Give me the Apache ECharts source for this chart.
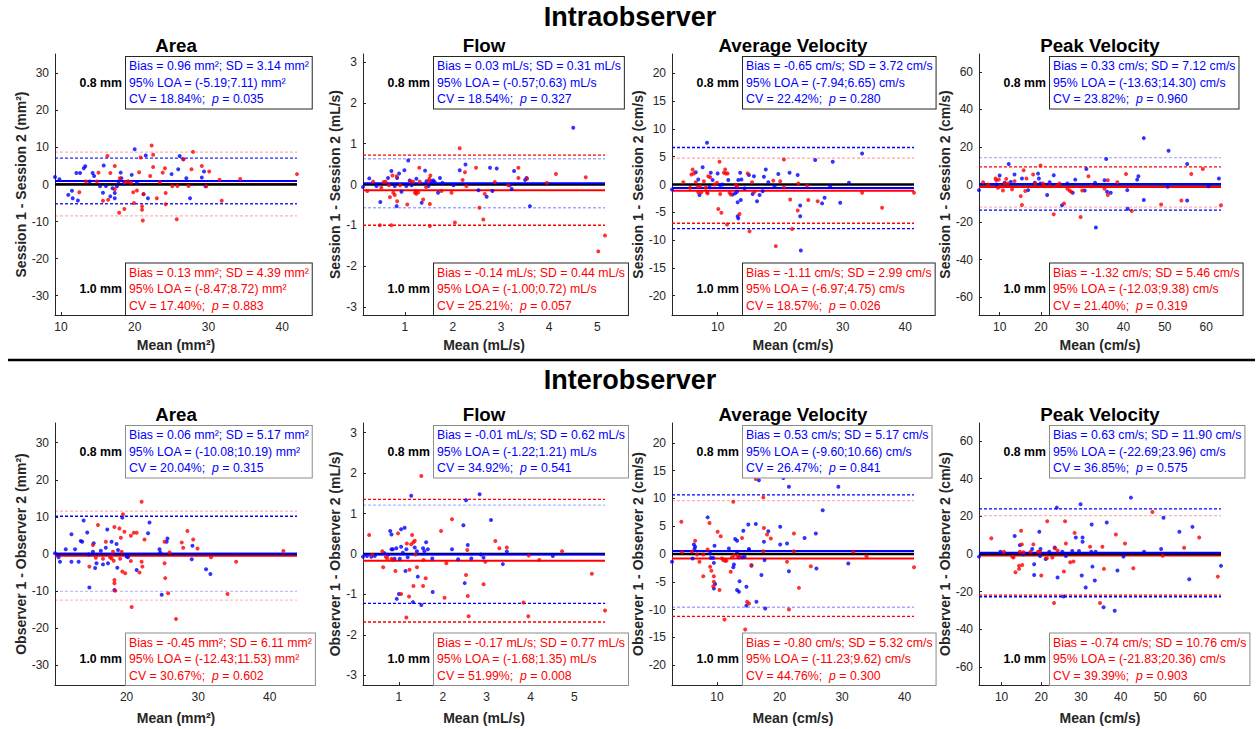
<!DOCTYPE html>
<html><head><meta charset="utf-8">
<script src="https://cdn.jsdelivr.net/npm/echarts@6/dist/echarts.min.js"></script>
<style>html,body{margin:0;padding:0;background:#fff}#c{width:1259px;height:729px}</style>
</head><body><div id="c"></div><script>
// ---------- DATA ----------
const rowTitles = ['Intraobserver', 'Interobserver'];
const panelTitles = ['Area', 'Flow', 'Average Velocity', 'Peak Velocity'];
const unitLabels = ['mm²', 'mL/s', 'cm/s', 'cm/s'];
const rowYPrefix = ['Session 1 - Session 2', 'Observer 1 - Observer 2'];
const groupLabels = ['0.8 mm', '1.0 mm'];

// [bias, SD, LOA low, LOA high, CV %, p]
const intraStats08 = [[0.96,3.14,-5.19,7.11,18.84,0.035],[0.03,0.31,-0.57,0.63,18.54,0.327],[-0.65,3.72,-7.94,6.65,22.42,0.280],[0.33,7.12,-13.63,14.30,23.82,0.960]];
const intraStats10 = [[0.13,4.39,-8.47,8.72,17.40,0.883],[-0.14,0.44,-1.00,0.72,25.21,0.057],[-1.11,2.99,-6.97,4.75,18.57,0.026],[-1.32,5.46,-12.03,9.38,21.40,0.319]];
const interStats08 = [[0.06,5.17,-10.08,10.19,20.04,0.315],[-0.01,0.62,-1.22,1.21,34.92,0.541],[0.53,5.17,-9.60,10.66,26.47,0.841],[0.63,11.90,-22.69,23.96,36.85,0.575]];
const interStats10 = [[-0.45,6.11,-12.43,11.53,30.67,0.602],[-0.17,0.77,-1.68,1.35,51.99,0.008],[-0.80,5.32,-11.23,9.62,44.76,0.300],[-0.74,10.76,-21.83,20.36,39.39,0.903]];

// tick labels
const xTicksIntra = [[10,20,30,40],[1,2,3,4,5],[10,20,30,40],[10,20,30,40,50,60]];
const xTicksInter = [[20,30,40],[1,2,3,4,5],[10,20,30,40],[10,20,30,40,50,60]];
const yTicks = [[-30,-20,-10,0,10,20,30],[-3,-2,-1,0,1,2,3],[-20,-15,-10,-5,0,5,10,15,20],[-60,-40,-20,0,20,40,60]];
const yLimitIntra = [35.2, 3.2, 23.5, 69.5];
const yLimitInter = [35.3, 3.24, 23.6, 69.5];

// points: [mean, difference]
const intraArea08 = [[9.2,2.0],[9.8,1.4],[11.0,-2.8],[11.5,-1.7],[11.6,-3.7],[12.1,3.1],[12.3,-4.3],[12.6,3.1],[13.1,4.4],[13.3,4.9],[13.9,0.8],[14.3,3.1],[14.5,2.3],[15.3,-0.5],[15.7,-2.2],[15.8,5.1],[16.1,-0.4],[16.7,-3.2],[17.0,-1.0],[17.3,-2.3],[17.3,-3.7],[17.6,-0.5],[17.8,0.8],[18.1,3.2],[18.2,1.7],[18.5,0.2],[19.1,0.8],[19.6,2.6],[20.0,9.5],[20.3,0.4],[21.2,-2.6],[21.5,7.8],[21.8,-3.7],[25.0,2.8],[25.9,4.1],[26.1,7.7],[26.6,6.8],[27.0,1.7],[27.5,-3.7],[29.1,1.9],[29.4,3.5],[29.6,-0.5]];
const intraArea10 = [[12.5,-2.1],[13.4,0.8],[14.9,0.8],[15.1,3.2],[15.7,-4.4],[16.3,7.7],[16.4,-4.1],[16.7,3.1],[17.3,5.0],[17.3,-1.3],[17.9,-7.6],[18.0,1.7],[18.6,-6.6],[18.7,0.6],[19.1,0.8],[19.5,0.5],[19.8,-2.1],[19.9,-5.0],[20.3,-1.6],[20.6,3.3],[20.8,7.3],[21.0,-5.9],[21.0,-6.8],[21.1,-9.7],[21.2,-2.6],[22.1,2.3],[22.3,10.5],[22.5,4.7],[22.5,8.0],[23.0,-3.7],[23.4,0.6],[23.8,3.2],[24.1,4.4],[24.2,-2.3],[24.2,-5.3],[25.1,-0.5],[25.7,-9.4],[25.8,-0.4],[26.6,6.8],[27.3,-0.4],[27.7,4.1],[27.9,8.8],[29.1,5.0],[29.7,-0.5],[30.1,3.5],[31.5,1.3],[31.8,-4.4],[34.3,1.5],[42.0,2.8]];
const intraFlow08 = [[0.13,-0.06],[0.26,0.15],[0.41,-0.04],[0.49,-0.43],[0.65,0.16],[0.72,0.33],[0.79,-0.04],[0.83,-0.53],[0.84,0.16],[0.88,0.27],[0.93,-0.18],[0.99,0.35],[1.03,-0.04],[1.07,0.59],[1.10,0.10],[1.14,-0.02],[1.24,0.14],[1.35,-0.45],[1.42,0.34],[1.45,0.08],[1.49,-0.04],[1.55,0.08],[1.59,0.10],[1.62,0.06],[1.69,-0.20],[1.73,0.16],[1.78,0.04],[2.01,-0.02],[2.14,0.35],[2.26,0.49],[2.53,-0.14],[2.70,-0.30],[2.77,0.41],[2.82,-0.16],[2.91,0.39],[3.18,-0.02],[3.22,-0.11],[3.27,0.33],[3.50,0.11],[3.53,0.16],[3.60,-0.53],[4.50,1.39]];
const intraFlow10 = [[0.22,-0.16],[0.34,0.07],[0.48,-1.00],[0.51,-0.08],[0.56,0.06],[0.60,0.07],[0.67,-0.02],[0.69,-0.31],[0.72,-1.00],[0.74,0.22],[0.76,-0.20],[0.79,-0.26],[0.83,0.20],[0.84,-0.41],[0.90,-0.02],[1.05,-0.49],[1.12,0.08],[1.17,0.07],[1.21,-0.20],[1.23,-0.16],[1.24,-0.23],[1.28,-0.19],[1.30,0.41],[1.31,0.07],[1.38,-0.37],[1.44,-0.06],[1.49,0.08],[1.51,0.14],[1.52,-0.48],[1.52,-1.02],[1.53,0.22],[1.76,-0.16],[1.97,-0.20],[2.04,-0.93],[2.14,0.89],[2.20,0.11],[2.25,0.30],[2.28,-0.04],[2.48,0.41],[2.55,-0.57],[2.63,-0.86],[2.66,-0.23],[2.87,0.06],[3.15,-0.02],[3.36,0.41],[3.36,0.16],[3.54,0.14],[3.95,0.04],[4.14,0.26],[4.76,0.18],[5.02,-1.64],[5.16,-1.25]];
const intraAvgV08 = [[2.7,-0.9],[6.5,2.2],[6.9,0.9],[7.1,-1.9],[7.6,3.1],[8.3,7.5],[8.7,-0.5],[8.9,2.1],[9.2,0.8],[10.0,2.0],[10.4,-0.1],[10.8,0.0],[11.7,0.8],[12.4,-1.8],[12.8,-1.6],[13.1,-1.3],[13.2,-3.2],[13.2,-5.7],[13.3,-6.1],[13.3,0.8],[13.6,2.1],[13.7,-2.8],[13.8,0.9],[14.3,-0.7],[15.0,1.7],[15.6,-1.7],[15.8,1.5],[16.3,-3.0],[16.7,-1.9],[17.2,-1.2],[17.4,1.4],[17.7,2.7],[18.1,0.4],[18.5,-15.2],[19.1,-0.3],[19.7,1.9],[21.5,2.1],[22.8,1.7],[23.2,-3.8],[23.2,-5.7],[23.3,-11.9],[25.6,4.4],[27.1,-2.4],[26.7,-3.4],[28.4,4.1],[28.0,-0.3],[29.6,-3.3],[31.0,0.3],[33.1,5.6]];
const intraAvgV10 = [[4.5,0.4],[5.6,-0.6],[5.8,1.8],[6.0,2.7],[6.2,2.0],[6.5,0.4],[6.8,-0.4],[6.9,-1.4],[7.2,-0.3],[7.4,-1.4],[7.8,0.6],[8.1,-0.6],[8.3,-1.4],[8.4,-1.6],[8.5,1.5],[8.8,1.3],[9.5,0.0],[9.9,0.3],[10.1,-4.4],[10.3,4.1],[10.4,-1.7],[10.6,-5.1],[11.0,2.1],[11.2,2.7],[11.3,2.0],[11.5,-7.2],[11.6,2.0],[11.9,-1.5],[12.1,-1.8],[12.9,-0.1],[13.1,-0.3],[13.5,-5.3],[14.8,2.0],[15.1,-8.4],[15.5,0.4],[15.9,-1.3],[18.9,0.7],[19.3,-11.1],[20.0,0.6],[20.6,4.5],[20.6,-0.5],[21.6,-2.7],[21.9,-8.0],[22.8,-4.7],[22.9,0.2],[24.3,-0.2],[24.5,-2.8],[26.0,-3.0],[33.1,-1.5],[36.3,-4.2],[41.4,-1.5]];
const intraPeakV08 = [[5.0,-3.0],[9.2,0.0],[10.0,4.8],[11.2,0.9],[12.2,10.9],[12.7,1.4],[13.6,5.3],[15.4,3.2],[16.9,-3.0],[18.5,0.9],[19.3,5.8],[19.5,3.2],[19.9,0.5],[21.5,-5.6],[22.1,1.2],[23.1,4.9],[25.1,-11.1],[26.4,0.5],[27.7,-4.4],[28.3,2.6],[31.0,8.3],[30.6,-3.2],[33.1,0.9],[33.3,-22.9],[35.4,2.3],[35.8,13.6],[36.0,-3.9],[36.9,-4.4],[40.9,-3.0],[41.0,-12.9],[43.3,2.6],[43.6,4.4],[44.9,24.7],[44.9,-8.3],[50.7,-1.2],[50.9,18.0],[55.4,10.9],[55.4,-8.5],[60.6,-0.9],[63.1,3.2]];
const intraPeakV10 = [[6.0,1.2],[7.2,0.0],[9.0,3.2],[9.2,2.3],[9.6,-1.8],[9.8,2.6],[10.2,-0.9],[10.8,-3.2],[11.2,0.5],[11.6,3.0],[12.0,0.5],[13.0,-2.6],[13.6,1.8],[15.1,-6.2],[15.4,-10.9],[15.8,7.6],[16.2,-3.5],[16.5,3.2],[18.1,5.3],[18.6,0.5],[19.9,10.1],[20.5,0.5],[20.9,-0.9],[22.1,-0.9],[23.1,-15.9],[23.9,-0.5],[24.5,0.5],[25.6,-10.1],[26.4,-2.3],[26.9,-3.2],[27.3,-3.9],[29.6,-17.3],[30.0,-3.2],[31.5,4.4],[32.2,-0.9],[35.4,-2.3],[36.2,-5.6],[36.2,2.3],[38.5,1.2],[40.6,5.6],[42.0,-14.1],[49.1,-10.6],[54.0,-8.5],[56.4,5.6],[59.2,8.3],[63.6,-11.1]];

const interArea08 = [[10.0,0.2],[10.5,-0.9],[10.7,-2.1],[11.5,1.3],[12.3,5.3],[12.3,-2.1],[12.8,1.3],[13.3,-2.1],[13.6,3.5],[13.8,3.3],[14.0,9.0],[14.5,5.8],[14.7,-0.1],[14.8,-9.0],[15.3,0.6],[15.4,2.9],[15.6,-3.8],[15.8,-2.5],[16.4,0.9],[16.7,-2.8],[17.1,1.7],[17.3,6.6],[17.4,-2.5],[17.9,3.3],[18.3,-9.7],[18.6,2.7],[18.7,-3.7],[18.8,1.1],[19.4,9.8],[20.0,-0.7],[20.2,-0.9],[21.4,-4.3],[23.0,5.6],[23.2,8.5],[24.6,1.3],[24.7,0.4],[24.9,-11.0],[25.6,3.3],[25.7,4.2],[29.1,-1.4],[29.2,2.2],[31.1,-4.1],[31.7,-5.4],[43.8,-21.9]];
const interArea10 = [[14.8,-3.4],[15.3,2.4],[15.7,-1.0],[16.0,7.8],[16.7,-1.3],[17.1,3.3],[17.7,-0.9],[17.9,-1.2],[18.1,0.6],[18.2,-1.8],[18.3,7.3],[18.3,-7.0],[18.3,-7.9],[18.4,-9.9],[19.0,6.9],[19.1,-1.3],[19.2,4.4],[19.3,0.6],[19.4,-4.7],[19.5,10.7],[19.7,6.0],[19.8,-5.2],[20.6,-1.9],[20.6,4.9],[20.7,-14.3],[21.0,5.7],[21.4,5.7],[21.8,-5.0],[22.1,-2.1],[22.2,-3.4],[22.1,14.1],[22.5,3.9],[25.3,3.3],[25.3,-2.5],[25.4,-6.5],[26.0,0.4],[25.8,-10.6],[26.9,-17.5],[27.7,3.1],[27.9,1.7],[28.5,6.2],[29.3,3.9],[29.9,1.5],[31.8,-0.9],[34.1,-10.8],[35.3,-2.1],[41.9,0.8]];
const interFlow08 = [[0.18,-0.07],[0.27,-0.05],[0.37,-0.07],[0.45,-0.05],[0.67,0.02],[0.75,-0.02],[0.80,0.57],[0.83,0.48],[0.83,0.12],[0.86,0.12],[0.90,-0.12],[0.94,0.14],[0.95,-1.11],[1.00,-0.99],[1.02,-0.12],[1.05,0.61],[1.05,0.18],[1.09,0.03],[1.13,0.65],[1.15,-0.42],[1.17,0.12],[1.20,-0.08],[1.28,1.44],[1.32,-1.19],[1.36,0.16],[1.41,0.07],[1.43,-0.56],[1.51,-1.26],[1.55,0.14],[1.58,0.07],[1.62,0.29],[1.66,0.12],[1.76,-0.11],[1.77,-0.94],[2.21,0.12],[2.35,-0.13],[2.47,0.71],[2.50,-0.72],[2.53,1.33],[2.57,0.22],[2.65,-0.11],[2.84,1.48],[2.87,-0.01],[2.93,-0.09],[3.10,0.84],[3.37,-0.25],[3.46,0.06],[3.52,-2.01],[4.51,-0.05]];
const interFlow10 = [[0.32,0.47],[0.39,-0.02],[0.62,0.07],[0.64,-0.33],[0.70,-0.07],[0.73,-0.11],[0.83,-0.12],[0.86,-0.15],[0.92,-0.42],[0.98,0.51],[1.05,-0.99],[1.17,-1.57],[1.18,0.26],[1.23,-1.05],[1.24,-0.39],[1.28,0.24],[1.30,0.47],[1.33,0.29],[1.36,0.33],[1.38,-0.01],[1.33,-0.79],[1.41,-0.33],[1.51,1.93],[1.55,-0.79],[1.56,-0.15],[1.61,-0.60],[1.96,0.57],[2.00,2.67],[2.04,-1.08],[2.08,-0.23],[2.21,0.86],[2.53,-0.52],[2.56,0.10],[2.57,-1.04],[2.59,-1.54],[2.93,-0.75],[2.97,-0.19],[3.20,0.32],[3.29,0.14],[3.46,0.16],[3.84,-1.20],[3.95,-1.54],[3.96,-0.04],[4.20,-0.15],[4.72,0.07],[5.40,-0.49],[5.70,-1.40]];
const interAvgV08 = [[2.8,-1.4],[6.3,1.7],[6.4,0.9],[6.5,1.3],[6.1,-0.8],[8.5,6.6],[8.9,0.1],[9.0,-0.7],[9.4,-0.7],[9.5,-1.6],[9.5,-6.2],[9.6,1.5],[9.7,-5.4],[11.9,1.0],[12.6,-2.4],[12.7,-1.9],[12.9,2.7],[13.2,2.4],[13.2,0.4],[13.2,-6.5],[13.5,-6.8],[13.5,-0.6],[13.6,-4.9],[14.0,-0.6],[14.2,4.2],[14.4,-0.5],[14.7,-5.9],[14.7,-9.3],[15.0,5.3],[15.1,0.7],[15.1,0.9],[15.5,-2.1],[16.2,5.4],[16.3,-8.6],[16.7,13.3],[17.1,-3.8],[17.5,2.2],[17.6,-1.1],[17.7,-9.8],[18.2,4.1],[20.1,4.9],[20.1,1.7],[20.6,13.7],[21.2,1.9],[21.5,12.1],[21.5,-3.1],[24.0,2.9],[25.8,3.7],[25.9,-2.6],[26.9,7.9],[29.4,12.1],[31.0,-1.7]];
const interAvgV10 = [[4.3,5.8],[4.4,0.3],[6.0,0.4],[6.5,2.4],[6.8,-0.1],[7.2,-1.4],[7.8,-4.0],[7.8,-0.1],[8.5,0.8],[8.8,5.6],[8.9,-2.3],[9.1,-3.0],[9.4,-5.8],[9.5,-5.0],[9.5,-4.0],[10.1,4.0],[10.4,-6.5],[10.6,3.2],[10.8,-0.8],[11.0,-1.1],[11.2,-11.8],[11.3,-1.2],[11.5,-1.2],[12.2,-3.2],[12.4,-0.6],[12.6,9.4],[12.7,-0.2],[13.3,-0.3],[13.6,-0.5],[14.0,2.9],[14.5,-13.6],[14.8,-8.6],[15.1,-8.9],[15.5,-2.0],[16.2,13.5],[17.4,0.5],[17.4,10.2],[17.5,4.7],[18.0,3.5],[18.6,2.8],[20.7,-14.6],[21.2,-1.4],[21.5,-10.0],[22.3,3.7],[22.3,0.5],[23.1,-6.1],[25.0,-2.2],[31.8,0.4],[33.9,-0.4],[41.5,-2.4]];
const interPeakV08 = [[4.3,-1.4],[9.7,1.2],[13.3,9.5],[14.6,4.7],[15.5,-0.2],[17.7,2.6],[18.2,-5.4],[18.2,-11.1],[19.5,11.8],[19.8,2.6],[19.7,-1.1],[21.1,-2.6],[22.0,1.2],[23.4,3.5],[23.9,24.6],[24.1,-12.5],[25.3,1.2],[25.6,-22.5],[26.2,-1.1],[27.8,1.6],[28.7,8.8],[29.5,1.6],[29.9,26.4],[30.2,-11.4],[30.4,8.8],[30.4,6.5],[31.2,-17.8],[32.6,1.2],[32.7,15.6],[32.9,-6.7],[33.5,-14.1],[33.7,1.2],[35.7,-28.3],[36.5,16.7],[38.5,-30.1],[39.2,-8.8],[40.7,-1.4],[42.6,29.9],[45.9,1.2],[50.2,2.6],[50.8,19.2],[54.8,11.8],[57.3,-13.4],[58.1,14.4],[65.3,-6.3]];
const interPeakV10 = [[7.4,8.3],[10.6,1.2],[12.7,-1.4],[13.0,-1.9],[13.5,-9.7],[14.4,-6.2],[14.4,-7.9],[14.6,1.2],[14.9,12.3],[15.1,5.1],[15.2,-5.8],[15.5,0.9],[17.3,1.2],[18.0,5.1],[19.2,1.2],[19.7,1.2],[20.0,-11.4],[21.4,-2.3],[21.5,17.4],[22.8,-1.9],[23.2,-26.0],[23.4,3.0],[24.1,1.8],[25.7,-9.3],[26.0,17.4],[26.2,5.6],[27.3,-4.4],[28.1,-4.0],[28.4,11.2],[32.3,3.9],[34.8,-26.0],[35.4,3.9],[35.8,-7.9],[38.8,10.4],[37.7,-42.7],[41.1,5.6],[43.2,-7.6],[48.0,22.3],[50.6,-0.9],[56.0,3.3],[59.8,8.8],[64.5,-12.0]];

// ---------- LAYOUT / STYLE ----------
const FONT = '"Liberation Sans", Arial, Helvetica, sans-serif';
const INK = '#262626';
const BLUE = '#0000ff', RED = '#ff0000';
const gridLefts = [55, 363, 672, 979];
const gridWidth = 242;
const gridTops = [54, 423];
const gridHeights = [261, 262];
const yNameGaps = [25, 18, 27, 25];
const xNameGaps = [23, 26];
const boxBorder = ['#262626', '#8c8c8c'];
// opacity of LOA lines per panel: [blue high, blue low, red high, red low]
const loaOpacity = [
  [0.85, 0.85, 0.3, 0.3], [0.35, 0.35, 1, 1], [1, 1, 0.35, 1], [0.3, 1, 1, 0.3],
  [1, 0.25, 0.25, 0.25], [0.3, 1, 1, 1], [1, 0.35, 0.3, 1], [1, 1, 0.3, 1]
];

const rows = [
  { stats08: intraStats08, stats10: intraStats10, pts08: [intraArea08, intraFlow08, intraAvgV08, intraPeakV08], pts10: [intraArea10, intraFlow10, intraAvgV10, intraPeakV10], xTicks: xTicksIntra, yLim: yLimitIntra },
  { stats08: interStats08, stats10: interStats10, pts08: [interArea08, interFlow08, interAvgV08, interPeakV08], pts10: [interArea10, interFlow10, interAvgV10, interPeakV10], xTicks: xTicksInter, yLim: yLimitInter }
];

const f2 = v => v.toFixed(2);
function boxText(s, u) {
  return 'Bias = ' + f2(s[0]) + ' ' + u + '; SD = ' + f2(s[1]) + ' ' + u + '\n' +
         '95% LOA = (' + f2(s[2]) + ';' + f2(s[3]) + ') ' + u + '\n' +
         'CV = ' + f2(s[4]) + '%;  {i|p} = ' + s[5].toFixed(3);
}

const grids = [], xAxes = [], yAxes = [], series = [], graphics = [];
const FS = 12.3, LH = 16.5, PAD = [1, 3, 1, 3];
const boxH = LH * 3 + PAD[0] + PAD[2];

rows.forEach((row, r) => {
  graphics.push({ type: 'text', x: 630, y: r === 0 ? 17 : 380, style: { text: rowTitles[r], font: 'bold 27px ' + FONT, fill: '#000', textAlign: 'center', textVerticalAlign: 'middle' } });
  for (let c = 0; c < 4; c++) {
    const i = r * 4 + c;
    const L = gridLefts[c], T = gridTops[r], H = gridHeights[r];
    grids.push({ left: L, top: T, width: gridWidth, height: H });
    const xt = row.xTicks[c], yt = yTicks[c], lim = row.yLim[c];
    xAxes.push({
      gridIndex: i, type: 'value', min: 'dataMin', max: 'dataMax',
      splitLine: { show: false },
      axisLine: { onZero: false, lineStyle: { color: INK, width: 1 } },
      axisTick: { inside: true, length: 3, customValues: xt, lineStyle: { color: INK } },
      axisLabel: { customValues: xt, color: INK, fontSize: 12, fontFamily: FONT, margin: 6 },
      name: 'Mean (' + unitLabels[c] + ')', nameLocation: 'middle', nameGap: xNameGaps[r],
      nameTextStyle: { fontWeight: 'bold', fontSize: 14, color: INK, fontFamily: FONT }
    });
    yAxes.push({
      gridIndex: i, type: 'value', min: -lim, max: lim,
      splitLine: { show: false },
      axisLine: { onZero: false, lineStyle: { color: INK, width: 1 } },
      axisTick: { inside: true, length: 3, customValues: yt, lineStyle: { color: INK } },
      axisLabel: { customValues: yt, color: INK, fontSize: 12, fontFamily: FONT, margin: 6 },
      name: rowYPrefix[r] + ' (' + unitLabels[c] + ')', nameLocation: 'middle', nameRotate: 90, nameGap: yNameGaps[c],
      nameTextStyle: { fontWeight: 'bold', fontSize: 14, color: INK, fontFamily: FONT }
    });
    const s8 = row.stats08[c], s10 = row.stats10[c], op = loaOpacity[i];
    const p8 = row.pts08[c], p10 = row.pts10[c];
    const allX = p8.concat(p10).map(d => d[0]);
    const xmin = Math.min.apply(null, allX), xmax = Math.max.apply(null, allX);
    const hline = (v, color, width, type, opacity, z) => ({
      type: 'line', xAxisIndex: i, yAxisIndex: i, silent: true, z: z, symbol: 'none',
      data: [[xmin, v], [xmax, v]],
      lineStyle: { color: color, width: width, type: type, opacity: opacity },
      itemStyle: { color: color }
    });
    const dash = [3, 2];
    series.push(hline(s8[3], BLUE, 1.4, dash, op[0], 1));
    series.push(hline(s8[2], BLUE, 1.4, dash, op[1], 1));
    series.push(hline(s10[3], RED, 1.4, dash, op[2], 1));
    series.push(hline(s10[2], RED, 1.4, dash, op[3], 1));
    series.push(hline(s10[0], RED, 2, 'solid', 1, 2));
    series.push(hline(0, '#000000', 2.5, 'solid', 1, 2));
    series.push(hline(s8[0], BLUE, 2, 'solid', 1, 2));
    series.push({ type: 'scatter', xAxisIndex: i, yAxisIndex: i, z: 3, symbolSize: 4, itemStyle: { color: BLUE }, data: p8 });
    series.push({ type: 'scatter', xAxisIndex: i, yAxisIndex: i, z: 3, symbolSize: 4, itemStyle: { color: RED }, data: p10 });

    // panel title
    graphics.push({ type: 'text', x: L + gridWidth / 2, y: T - 9, style: { text: panelTitles[c], font: 'bold 18.7px ' + FONT, fill: '#000', textAlign: 'center', textVerticalAlign: 'middle' } });
    // stat boxes
    const bx = L + 71;
    const topY = T + 3, botY = T + H - boxH;
    [[s8, BLUE, topY, groupLabels[0]], [s10, RED, botY, groupLabels[1]]].forEach(([s, col, y, lab]) => {
      graphics.push({ type: 'text', x: bx, y: y, z: 10, style: {
        text: boxText(s, unitLabels[c]), fill: col, font: FS + 'px ' + FONT, lineHeight: LH,
        textAlign: 'left', textVerticalAlign: 'top',
        backgroundColor: '#fff', borderColor: boxBorder[r], borderWidth: 1, padding: PAD,
        rich: { i: { fontStyle: 'italic', fill: col, fontSize: FS, fontFamily: FONT, lineHeight: LH } }
      } });
      graphics.push({ type: 'text', x: bx - 4, y: y + PAD[0] + LH * 1.5, z: 10, style: { text: lab, font: 'bold 12.3px ' + FONT, fill: '#000', textAlign: 'right', textVerticalAlign: 'middle' } });
    });
  }
});
graphics.push({ type: 'line', shape: { x1: 8, y1: 360, x2: 1255, y2: 360 }, style: { stroke: '#000', lineWidth: 2.5 } });

const chart = echarts.init(document.getElementById('c'), null, { renderer: 'svg' });
chart.setOption({
  animation: false, backgroundColor: '#fff',
  grid: grids, xAxis: xAxes, yAxis: yAxes, series: series, graphic: graphics
});
</script></body></html>
